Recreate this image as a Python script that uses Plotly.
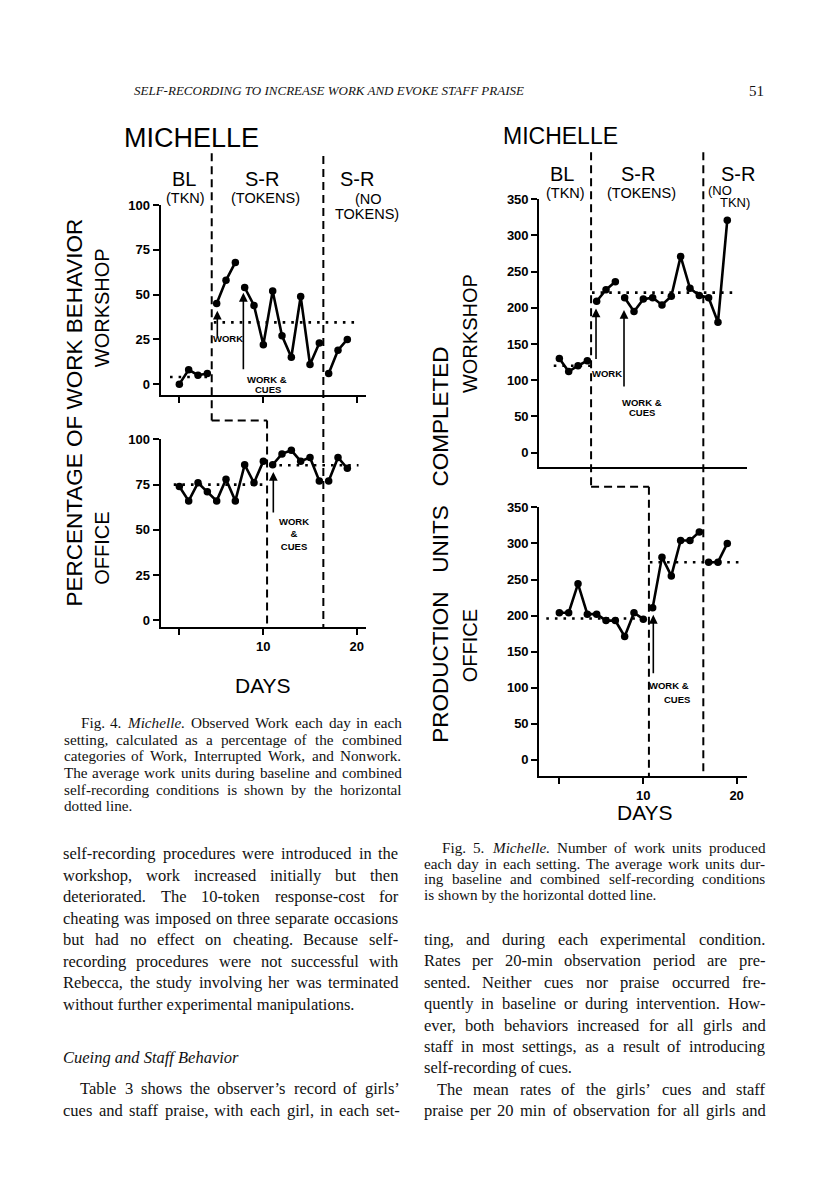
import plotly.graph_objects as go

W, H = 816, 1195

# ---------------- data ----------------
days = list(range(1, 20))

# Fig. 4 - percentage of work behaviour
fig4_workshop = [0, 8, 5, 6, 45, 58, 68, 54, 44, 22, 52, 27, 15, 49, 11, 23, 6, 19, 25]
fig4_office = [74, 66, 76, 71, 66, 78, 66, 86, 76, 88, 86, 92, 94, 88, 90, 77, 77, 90, 84]
# Fig. 5 - production units completed
fig5_workshop = [130, 112, 120, 127, 209, 225, 236, 214, 195, 212, 214, 204, 216, 271, 227, 217, 214, 180, 321]
fig5_office = [204, 204, 244, 202, 202, 193, 193, 171, 204, 195, 211, 281, 255, 304, 304, 316, 274, 274, 300]

# the plotted line is broken after these days
fig4_workshop_breaks = [4, 7, 16]
fig4_office_breaks = [10, 16]
fig5_workshop_breaks = [4, 7]
fig5_office_breaks = [10, 16]

# dotted mean lines: [baseline, self-recording] values and their day spans
fig4_workshop_means = [4, 34.5]
fig4_office_means = [75, 85.7]
fig5_workshop_means = [120, 221]
fig5_office_means = [196, 274]
fig4_workshop_mean_days = [(0.0, 4.3), (4.7, 20.1)]
fig4_office_mean_days = [(0.4, 10.4), (10.8, 20.2)]
fig5_workshop_mean_days = [(0.4, 4.4), (4.5, 20.0)]
fig5_office_mean_days = [(-0.4, 10.6), (10.7, 20.2)]

# phase-change days: [workshop S-R start, office S-R start, no-token start]
fig4_phase = [4.47, 10.4, 16.43]
fig5_phase = [4.4, 10.6, 16.43]

# arrows: (day, value at head)
fig4_workshop_arrows = [(5.07, 41), (7.86, 51)]
fig4_office_arrows = [(11.07, 82)]
fig5_workshop_arrows = [(4.93, 199), (7.93, 197)]
fig5_office_arrows = [(11.07, 201)]

pct_ticks = [0, 25, 50, 75, 100]
unit_ticks = [0, 50, 100, 150, 200, 250, 300, 350]
day_ticks = [1, 10, 20]
day_labels = ["", "10", "20"]

# ---------------- helpers ----------------
def fx(p):
    return p / W


def fy(p):
    return 1 - p / H


SANS = "Liberation Sans"
SERIF = "Liberation Serif"

fig = go.Figure()


def seg(vals, breaks):
    xs, ys = [], []
    for d, v in zip(days, vals):
        xs.append(d)
        ys.append(v)
        if d in breaks:
            xs.append(None)
            ys.append(None)
    return xs, ys


# geometry of the four panels (pixels)
panels = [
    dict(n="", vals=fig4_workshop, br=fig4_workshop_breaks, means=fig4_workshop_means,
         mdays=fig4_workshop_mean_days, left=160.67, right=366.0, top=199.3, bottom=390,
         xr=[-1.0, 21.0], yr=[-5.9, 100], yt=pct_ticks, xt=day_ticks, xl=["", "", ""]),
    dict(n="2", vals=fig4_office, br=fig4_office_breaks, means=fig4_office_means,
         mdays=fig4_office_mean_days, left=160.67, right=366.0, top=435, bottom=624,
         xr=[-1.0, 21.0], yr=[-4, 100], yt=pct_ticks, xt=day_ticks, xl=day_labels),
    dict(n="3", vals=fig5_workshop, br=fig5_workshop_breaks, means=fig5_workshop_means,
         mdays=fig5_workshop_mean_days, left=539.2, right=746.7, top=193.3, bottom=462.7,
         xr=[-1.16, 21.08], yr=[-19.8, 350], yt=unit_ticks, xt=[], xl=[]),
    dict(n="4", vals=fig5_office, br=fig5_office_breaks, means=fig5_office_means,
         mdays=fig5_office_mean_days, left=539.2, right=746.7, top=503.3, bottom=774,
         xr=[-1.16, 21.08], yr=[-23, 350], yt=unit_ticks, xt=day_ticks, xl=day_labels),
]

layout_axes = {}
for p in panels:
    xa, ya = "x" + p["n"], "y" + p["n"]
    xs, ys = seg(p["vals"], p["br"])
    fig.add_trace(go.Scatter(x=xs, y=ys, xaxis=xa, yaxis=ya, mode="lines+markers",
                             connectgaps=False, showlegend=False, hoverinfo="skip",
                             line=dict(color="black", width=2.6),
                             marker=dict(color="black", size=7.5)))
    for m, (d0, d1) in zip(p["means"], p["mdays"]):
        fig.add_trace(go.Scatter(x=[d0, d1], y=[m, m], xaxis=xa, yaxis=ya, mode="lines",
                                 showlegend=False, hoverinfo="skip",
                                 line=dict(color="black", width=2.6, dash="2.6px,6px")))
    tf = dict(family=SANS, size=13, color="black", weight="bold")
    layout_axes["xaxis" + p["n"]] = dict(
        domain=[fx(p["left"]), fx(p["right"])], range=p["xr"], anchor=ya,
        showline=True, linecolor="black", linewidth=2, ticks="outside" if p["xt"] else "",
        ticklen=6, tickwidth=2, tickcolor="black", tickvals=p["xt"], ticktext=p["xl"],
        showgrid=False, zeroline=False, tickfont=tf, fixedrange=True)
    layout_axes["yaxis" + p["n"]] = dict(
        domain=[fy(p["bottom"]), fy(p["top"])], range=p["yr"], anchor=xa,
        showline=True, linecolor="black", linewidth=2, ticks="outside",
        ticklen=6, tickwidth=2, tickcolor="black", tickvals=p["yt"],
        showgrid=False, zeroline=False, tickfont=tf, fixedrange=True)

fig.update_layout(width=W, height=H, margin=dict(l=0, r=0, t=0, b=0),
                  paper_bgcolor="white", plot_bgcolor="white", showlegend=False,
                  **layout_axes)

# ---------------- phase-change dashed lines ----------------
dash_line = dict(color="black", width=2, dash="8px,5px")
shapes = []


def vline(xref, x, y0, y1):
    shapes.append(dict(type="line", xref=xref, yref="paper", x0=x, x1=x,
                       y0=fy(y0), y1=fy(y1), line=dash_line))


def hline(xref, x0, x1, y):
    shapes.append(dict(type="line", xref=xref, yref="paper", x0=x0, x1=x1,
                       y0=fy(y), y1=fy(y), line=dash_line))


vline("x", fig4_phase[0], 147, 416)
hline("x", fig4_phase[0], fig4_phase[1], 416)
vline("x", fig4_phase[1], 416, 624)
vline("x", fig4_phase[2], 150, 624)

vline("x3", fig5_phase[0], 146, 482.7)
hline("x3", fig5_phase[0], fig5_phase[1], 482.7)
vline("x3", fig5_phase[1], 482.7, 774)
vline("x3", fig5_phase[2], 146, 774)
fig.update_layout(shapes=shapes)

# ---------------- arrows ----------------
arrow_len = {"": [27, 78], "2": [42], "3": [52, 78], "4": [60]}
arrow_sets = {"": fig4_workshop_arrows, "2": fig4_office_arrows,
              "3": fig5_workshop_arrows, "4": fig5_office_arrows}
for n, arrs in arrow_sets.items():
    for (d, v), ln in zip(arrs, arrow_len[n]):
        fig.add_annotation(x=d, y=v, xref="x" + n, yref="y" + n, text="", showarrow=True,
                           ax=0, ay=ln, arrowhead=2, arrowsize=1.1, arrowwidth=1.6,
                           arrowcolor="black", standoff=0)


# ---------------- figure texts ----------------
def label(text, x, y, size, angle=0, weight="normal", anchor="center", family=SANS):
    fig.add_annotation(x=fx(x), y=fy(y), xref="paper", yref="paper", text=text,
                       showarrow=False, textangle=angle, xanchor=anchor, yanchor="middle",
                       borderpad=0, borderwidth=0,
                       font=dict(family=family, size=size, color="black", weight=weight))


# Fig 4
label("MICHELLE", 191, 132, 27)
label("BL", 184, 173, 20)
label("(TKN)", 185, 192, 14.5)
label("S-R", 262, 173, 20)
label("(TOKENS)", 265, 192, 14.5)
label("S-R", 357, 173, 20)
label("(NO", 355, 193, 14.5, anchor="left")
label("TOKENS)", 335, 208, 14.5, anchor="left")
label("PERCENTAGE OF WORK BEHAVIOR", 75, 408, 22.5, angle=-90)
label("WORKSHOP", 102, 303, 20, angle=-90)
label("OFFICE", 102, 545, 20, angle=-90)
label("DAYS", 263, 682, 21)
label("WORK", 228, 333, 9.5, weight="bold")
label("WORK &", 267, 375, 9.5, weight="bold")
label("CUES", 268, 385, 9.5, weight="bold")
label("WORK<br>&<br>CUES", 294, 530, 9.5, weight="bold")

# Fig 5
label("MICHELLE", 560, 130, 23)
label("BL", 562, 168, 20)
label("(TKN)", 565, 187, 14.5)
label("S-R", 638, 168, 20)
label("(TOKENS)", 641, 187, 14.5)
label("S-R", 738, 168, 20)
label("(NO", 720, 185, 13)
label("TKN)", 735, 197, 13)
label("PRODUCTION&nbsp;&nbsp;&nbsp;UNITS&nbsp;&nbsp;&nbsp;COMPLETED", 441, 541, 22.5, angle=-90)
label("WORKSHOP", 470, 328, 20, angle=-90)
label("OFFICE", 470, 642, 20, angle=-90)
label("DAYS", 645, 810, 21)
label("WORK", 607, 369, 9.5, weight="bold")
label("WORK &", 642, 398, 9.5, weight="bold")
label("CUES", 642, 408, 9.5, weight="bold")
label("WORK &", 669, 682, 9.5, weight="bold")
label("CUES", 677, 697, 9.5, weight="bold")

# ---------------- page texts (justified word by word) ----------------
TIMES = {' ': 250, '!': 333, ',': 250, '-': 333, '.': 250, ':': 278, ';': 278, "'": 180,
         '’': 333, '(': 333, ')': 333, '&': 778}
for c in "0123456789":
    TIMES[c] = 500
TIMES.update(dict(zip("ABCDEFGHIJKLMNOPQRSTUVWXYZ",
                      [722, 667, 667, 722, 611, 556, 722, 722, 333, 389, 722, 611, 889, 722, 722,
                       556, 722, 667, 556, 611, 722, 722, 944, 722, 722, 611])))
TIMES.update(dict(zip("abcdefghijklmnopqrstuvwxyz",
                      [444, 500, 444, 500, 444, 333, 500, 500, 278, 278, 500, 278, 778, 500, 500,
                       500, 500, 333, 389, 278, 500, 500, 722, 500, 500, 444])))


def strip_tags(s):
    return s.replace("<i>", "").replace("</i>", "")


def tw(s, size):
    return sum(TIMES.get(c, 500) for c in strip_tags(s)) / 1000.0 * size


def serif_text(s, x, y, size, italic=False):
    fig.add_annotation(x=fx(x), y=fy(y), xref="paper", yref="paper", text=s,
                       showarrow=False, xanchor="left", yanchor="middle",
                       borderpad=0, borderwidth=0,
                       font=dict(family=SERIF, size=size, color="#111111",
                                 style="italic" if italic else "normal"))


def para_line(s, x0, x1, y, size, justify=True):
    if not justify:
        serif_text(s, x0, y, size)
        return
    words = s.split(" ")
    total = sum(tw(w, size) for w in words)
    gap = (x1 - x0 - total) / max(len(words) - 1, 1)
    x = x0
    for w in words:
        serif_text(w, x, y, size)
        x += tw(w, size) + gap


# running head
serif_text("SELF-RECORDING TO INCREASE WORK AND EVOKE STAFF PRAISE", 134, 84, 13, italic=True)
serif_text("51", 749, 84, 15)

cap4 = ["Fig. 4. <i>Michelle.</i> Observed Work each day in each",
        "setting, calculated as a percentage of the combined",
        "categories of Work, Interrupted Work, and Nonwork.",
        "The average work units during baseline and combined",
        "self-recording conditions is shown by the horizontal",
        "dotted line."]
cap4_y = [720, 736.7, 753.3, 770, 786.7, 803]
for i, (s, y) in enumerate(zip(cap4, cap4_y)):
    para_line(s, 80.7 if i == 0 else 63.5, 401.5, y, 15.2, justify=(i < len(cap4) - 1))

cap5 = ["Fig. 5. <i>Michelle.</i> Number of work units produced",
        "each day in each setting. The average work units dur-",
        "ing baseline and combined self-recording conditions",
        "is shown by the horizontal dotted line."]
cap5_y = [845, 861.5, 877, 893]
for i, (s, y) in enumerate(zip(cap5, cap5_y)):
    para_line(s, 441.7 if i == 0 else 424, 765.5, y, 15.2, justify=(i < len(cap5) - 1))

left_body = ["self-recording procedures were introduced in the",
             "workshop, work increased initially but then",
             "deteriorated. The 10-token response-cost for",
             "cheating was imposed on three separate occasions",
             "but had no effect on cheating. Because self-",
             "recording procedures were not successful with",
             "Rebecca, the study involving her was terminated",
             "without further experimental manipulations."]
left_y = [851.7, 873.3, 895, 916.7, 938.3, 960, 981.7, 1003.3]
for i, (s, y) in enumerate(zip(left_body, left_y)):
    para_line(s, 63.3, 398.5, y, 16.5, justify=(i < len(left_body) - 1))

serif_text("Cueing and Staff Behavior", 63.3, 1056.7, 16.5, italic=True)
para_line("Table 3 shows the observer’s record of girls’", 80, 399.5, 1088.3, 16.5)
para_line("cues and staff praise, with each girl, in each set-", 63.3, 399.5, 1109.7, 16.5)

right_body = ["ting, and during each experimental condition.",
              "Rates per 20-min observation period are pre-",
              "sented. Neither cues nor praise occurred fre-",
              "quently in baseline or during intervention. How-",
              "ever, both behaviors increased for all girls and",
              "staff in most settings, as a result of introducing",
              "self-recording of cues."]
right_y = [938, 959.5, 981, 1002.5, 1024, 1045.5, 1067]
for i, (s, y) in enumerate(zip(right_body, right_y)):
    para_line(s, 423.5, 765.5, y, 16.5, justify=(i < len(right_body) - 1))
para_line("The mean rates of the girls’ cues and staff", 437, 765.5, 1088.5, 16.5)
para_line("praise per 20 min of observation for all girls and", 423.5, 765.5, 1110, 16.5)

fig.write_html("out.html", include_plotlyjs=True, full_html=True,
               config={"displayModeBar": False, "staticPlot": True},
               post_script="document.body.style.margin='0';document.body.style.overflow='hidden';")
